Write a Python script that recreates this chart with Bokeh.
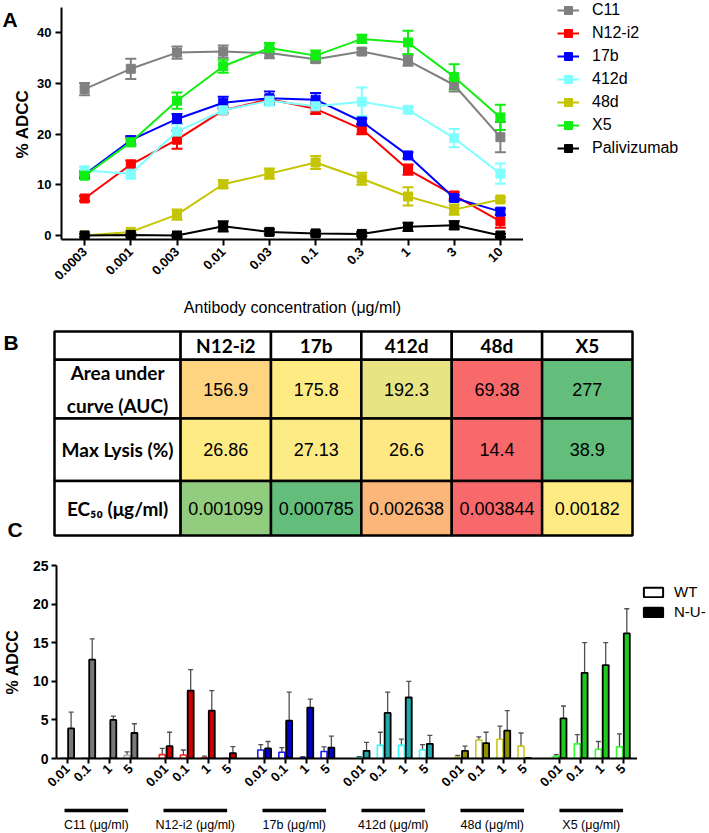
import math
from bokeh.plotting import figure
from bokeh.models import (ColumnDataSource, Range1d, Whisker, TeeHead,
                          Legend, LegendItem, FixedTicker)
from bokeh.layouts import column, row
from bokeh.embed import file_html
from bokeh.resources import INLINE
from bokeh.core.properties import value

ARIAL = "Liberation Sans"
CALIBRI = "Lato"
NAN = float("nan")

# ---------------- Panel A data ----------------
concentrations = ["0.0003", "0.001", "0.003", "0.01", "0.03", "0.1", "0.3", "1", "3", "10"]
series_names = ["C11", "N12-i2", "17b", "412d", "48d", "X5", "Palivizumab"]
c11_mean = [28.9, 32.9, 36.1, 36.3, 36.0, 34.8, 36.3, 34.5, 29.7, 19.4]
c11_err = [1.2, 2.0, 1.2, 1.2, 1.0, 0.7, 0.6, 1.0, 1.3, 3.0]
n12_mean = [7.3, 14.0, 18.9, 24.7, 26.9, 25.0, 21.0, 13.0, 7.9, 2.8]
n12_err = [0.5, 0.8, 1.8, 0.6, 0.6, 1.0, 1.0, 1.0, 0.7, 1.3]
b17_mean = [12.0, 18.8, 23.0, 26.2, 27.1, 26.8, 22.5, 15.8, 7.4, 4.7]
b17_err = [0.6, 0.8, 1.0, 1.2, 1.3, 1.3, 0.6, 0.6, 0.6, 0.6]
d412_mean = [12.8, 12.2, 20.5, 24.7, 26.6, 25.5, 26.4, 24.8, 19.2, 12.2]
d412_err = [0.8, 1.0, 1.5, 0.6, 1.0, 0.7, 2.8, 0.6, 1.8, 2.0]
d48_mean = [0.0, 0.7, 4.1, 10.1, 12.2, 14.4, 11.2, 7.7, 5.1, 7.1]
d48_err = [0.3, 0.3, 1.0, 0.8, 1.0, 1.3, 1.2, 1.8, 1.0, 0.4]
x5_mean = [11.8, 18.4, 26.6, 33.4, 37.0, 35.5, 38.8, 38.1, 31.3, 23.3]
x5_err = [0.6, 0.8, 1.6, 1.3, 1.0, 1.0, 0.8, 2.3, 2.5, 2.5]
pal_mean = [0.0, 0.1, 0.0, 1.8, 0.7, 0.4, 0.3, 1.7, 2.0, 0.0]
pal_err = [0.3, 0.3, 0.3, 1.0, 0.5, 0.4, 0.4, 0.8, 0.8, 0.3]
series_means = [c11_mean, n12_mean, b17_mean, d412_mean, d48_mean, x5_mean, pal_mean]
series_errs = [c11_err, n12_err, b17_err, d412_err, d48_err, x5_err, pal_err]
series_colors = ["#808080", "#ff0000", "#0000ff", "#80ffff", "#c4c400", "#11ee11", "#000000"]
a_yticks = [0, 10, 20, 30, 40]
a_ylabel = "% ADCC"
a_xlabel = "Antibody concentration (\u03bcg/ml)"

# ---------------- Panel B data ----------------
table_antibodies = ["N12-i2", "17b", "412d", "48d", "X5"]
table_row_labels = ["Area under\ncurve (AUC)", "Max Lysis (%)", "EC\u2085\u2080 (\u03bcg/ml)"]
auc_values = [156.9, 175.8, 192.3, 69.38, 277]
max_lysis_values = [26.86, 27.13, 26.6, 14.4, 38.9]
ec50_values = [0.001099, 0.000785, 0.002638, 0.003844, 0.00182]
table_rows = [auc_values, max_lysis_values, ec50_values]
higher_is_better = [True, True, False]

# ---------------- Panel C data ----------------
c_groups = ["C11", "N12-i2", "17b", "412d", "48d", "X5"]
c_concs = ["0.01", "0.1", "1", "5"]
wt_mean = [[0.05, 0.05, 0.05, 0.4], [0.5, 0.45, 0.1, 0.0], [1.1, 0.8, 0.1, 0.9],
           [0.1, 1.7, 1.7, 1.1], [0.15, 2.4, 2.5, 1.6], [0.3, 1.9, 1.2, 1.5]]
wt_err = [[0.0, 0.0, 0.0, 0.45], [0.8, 0.65, 0.2, 0.0], [0.7, 0.6, 0.15, 0.6],
          [0.15, 1.7, 0.8, 0.7], [0.25, 0.4, 1.7, 1.7], [0.2, 1.2, 1.0, 1.7]]
nu_mean = [[3.9, 12.8, 5.0, 3.3], [1.6, 8.8, 6.2, 0.7], [1.3, 4.9, 6.6, 1.4],
           [1.0, 5.9, 7.9, 1.9], [1.0, 2.0, 3.6, 0.05], [5.2, 11.1, 12.1, 16.2]]
nu_err = [[2.1, 2.7, 0.5, 1.2], [1.8, 2.7, 2.6, 0.85], [0.9, 3.7, 1.1, 1.5],
          [1.1, 2.7, 2.1, 1.1], [0.6, 1.4, 2.6, 0.05], [1.6, 3.9, 2.9, 3.2]]
wt_colors = ["#b4b4b4", "#ff2020", "#1a1aff", "#30ffff", "#c8c820", "#30ff30"]
nu_colors = ["#787878", "#cc0000", "#0000c8", "#22a8a8", "#8e8e00", "#20c820"]
c_yticks = [0, 5, 10, 15, 20, 25]
c_keys = ["WT", "N-U-"]


def blank(width, height, x_range, y_range, **kw):
    p = figure(width=width, height=height, x_range=x_range, y_range=y_range,
               output_backend="svg", toolbar_location=None, x_axis_location=None,
               y_axis_location=None, frame_align=False,
               min_border_left=kw.get("left", 0), min_border_right=kw.get("right", 0),
               min_border_top=kw.get("top", 0), min_border_bottom=kw.get("bottom", 0))
    p.xgrid.grid_line_color = None
    p.ygrid.grid_line_color = None
    p.outline_line_color = None
    return p


def style_axes(p, label_size):
    p.xgrid.grid_line_color = None
    p.ygrid.grid_line_color = None
    p.outline_line_color = None
    for ax in p.axis:
        ax.axis_line_width = 2
        ax.axis_line_color = "black"
        ax.major_tick_line_width = 2
        ax.major_tick_line_color = "black"
        ax.major_tick_in = 0
        ax.major_tick_out = 6
        ax.minor_tick_line_color = None
        ax.major_label_text_font = ARIAL
        ax.major_label_text_font_style = "bold"
        ax.major_label_text_font_size = label_size
        ax.major_label_text_color = "black"
        ax.axis_label_text_font = ARIAL
        ax.axis_label_text_color = "black"


def panel_letter(p, x, y, letter):
    p.text(x=[x], y=[y], text=[letter], text_font=value(ARIAL), text_font_style="bold",
           text_font_size="21px", text_baseline="top", text_align="left", text_color="black")


def make_legend(items, location, **kw):
    return Legend(items=items, location=location, orientation="vertical", padding=0, margin=0,
                  label_text_font=ARIAL, label_text_color="black", border_line_color=None,
                  background_fill_alpha=0, **kw)


# ================= Row A =================
HA = 322
SA_W = 34
sA = blank(SA_W, HA, Range1d(0, SA_W), Range1d(0, HA))
panel_letter(sA, 2, HA - 7, "A")
sA.text(x=[21.5], y=[HA - 123.5], text=[a_ylabel], angle=math.pi / 2,
        text_font=value(ARIAL), text_font_style="bold", text_font_size="17px",
        text_align="center", text_baseline="middle", text_color="black")

pA = figure(width=523 - SA_W, height=HA, x_range=concentrations, y_range=Range1d(-0.8, 45.0),
            output_backend="svg", toolbar_location=None, frame_align=False,
            min_border_left=61 - SA_W, min_border_right=0, min_border_top=7, min_border_bottom=83)
style_axes(pA, "13px")
pA.yaxis.ticker = FixedTicker(ticks=a_yticks)
pA.yaxis.major_label_standoff = 4
pA.xaxis.major_label_orientation = math.pi / 4
pA.xaxis.major_label_standoff = 4
pA.xaxis.axis_label = a_xlabel
pA.xaxis.axis_label_text_font_style = "normal"
pA.xaxis.axis_label_text_font_size = "16px"
pA.xaxis.axis_label_standoff = 12

legA = blank(709 - 523, HA, Range1d(0, 1), Range1d(0, 1))
legend_items = []
for name, mean, err, color in zip(series_names, series_means, series_errs, series_colors):
    src = ColumnDataSource(dict(x=concentrations, y=mean,
                                lo=[m - e for m, e in zip(mean, err)],
                                hi=[m + e for m, e in zip(mean, err)]))
    wh = Whisker(base="x", lower="lo", upper="hi", source=src, line_color=color, line_width=2,
                 upper_head=TeeHead(size=11, line_color=color, line_width=2),
                 lower_head=TeeHead(size=11, line_color=color, line_width=2))
    pA.add_layout(wh)
    pA.line("x", "y", source=src, line_color=color, line_width=2)
    pA.scatter("x", "y", source=src, marker="square", size=9, fill_color=color, line_color=color)
    # legend keys (same styling, no visible data) in the legend panel
    kl = legA.line(x=[NAN], y=[NAN], line_color=color, line_width=2)
    ks = legA.scatter(x=[NAN], y=[NAN], marker="square", size=9, fill_color=color, line_color=color)
    legend_items.append(LegendItem(label=name, renderers=[kl, ks]))

legA.add_layout(make_legend(legend_items, (34, HA - 158), spacing=3, glyph_width=22,
                            glyph_height=20, label_height=20, label_standoff=13,
                            label_text_font_size="16px"))

# ================= Row B (table) =================
HB = 226
col_widths = [126] + [90.3] * len(table_antibodies)
row_heights = [28.3, 58.5, 62.5, 54.5]  # header first, top to bottom
total_w = sum(col_widths)
total_h = sum(row_heights)

sB = blank(52, HB, Range1d(0, 52), Range1d(0, HB))
panel_letter(sB, 3, HB - 8, "B")
panel_letter(sB, 7, HB - 195, "C")

pB = blank(657, HB, Range1d(-2, total_w + 2), Range1d(-2, total_h + 2),
           left=0, right=75, top=7, bottom=HB - 7 - int(round(total_h + 4)))

col_edges = [0]
for w_ in col_widths:
    col_edges.append(col_edges[-1] + w_)
row_edges = [total_h]
for h_ in row_heights:
    row_edges.append(row_edges[-1] - h_)

RED = (248, 105, 107)
YEL = (255, 235, 132)
GRN = (99, 190, 123)


def mix(c1, c2, t):
    return "#%02x%02x%02x" % tuple(int(round(a + (b - a) * t)) for a, b in zip(c1, c2))


def scale_color(v, vals, good_high):
    lo, hi = min(vals), max(vals)
    mid = sorted(vals)[len(vals) // 2]
    low_c, high_c = (RED, GRN) if good_high else (GRN, RED)
    if v <= mid:
        t = 0 if mid == lo else (v - lo) / (mid - lo)
        return mix(low_c, YEL, t)
    t = (v - mid) / (hi - mid)
    return mix(YEL, high_c, t)


cells = dict(left=[], right=[], top=[], bottom=[], color=[])
texts = dict(x=[], y=[], text=[])
hdr = dict(x=[], y=[], text=[])
for ci in range(len(col_widths)):
    cells["left"].append(col_edges[ci]); cells["right"].append(col_edges[ci + 1])
    cells["top"].append(row_edges[0]); cells["bottom"].append(row_edges[1])
    cells["color"].append("white")
    if ci > 0:
        hdr["x"].append((col_edges[ci] + col_edges[ci + 1]) / 2)
        hdr["y"].append((row_edges[0] + row_edges[1]) / 2)
        hdr["text"].append(table_antibodies[ci - 1])
for ri, (vals, good) in enumerate(zip(table_rows, higher_is_better)):
    top, bot = row_edges[ri + 1], row_edges[ri + 2]
    cells["left"].append(col_edges[0]); cells["right"].append(col_edges[1])
    cells["top"].append(top); cells["bottom"].append(bot); cells["color"].append("white")
    hdr["x"].append((col_edges[0] + col_edges[1]) / 2)
    hdr["y"].append((top + bot) / 2)
    hdr["text"].append(table_row_labels[ri])
    for ci, v in enumerate(vals):
        cells["left"].append(col_edges[ci + 1]); cells["right"].append(col_edges[ci + 2])
        cells["top"].append(top); cells["bottom"].append(bot)
        cells["color"].append(scale_color(v, vals, good))
        texts["x"].append((col_edges[ci + 1] + col_edges[ci + 2]) / 2)
        texts["y"].append((top + bot) / 2)
        texts["text"].append(f"{v:g}")

pB.quad(left="left", right="right", top="top", bottom="bottom", fill_color="color",
        line_color="black", line_width=2.5, source=ColumnDataSource(cells))
pB.text(x="x", y="y", text="text", source=ColumnDataSource(hdr), text_font=value(CALIBRI),
        text_font_style="bold", text_font_size="19px", text_align="center",
        text_baseline="middle", text_line_height=1.45, text_color="black")
pB.text(x="x", y="y", text="text", source=ColumnDataSource(texts), text_font=value(ARIAL),
        text_font_size="18px", text_align="center", text_baseline="middle",
        text_color="black")

# ================= Row C =================
HC = 252
GROUP_STEP = 14
CONC_STEP = 3
OFFSET = 0.52
BAR_W = 0.85
tick_pos = [g * GROUP_STEP + k * CONC_STEP for g in range(len(c_groups)) for k in range(len(c_concs))]
tick_lab = [c for g in range(len(c_groups)) for c in c_concs]
x_range_c = Range1d(-1.556, 81.04)

pC = figure(width=637, height=HC, x_range=x_range_c, y_range=Range1d(0, 25),
            output_backend="svg", toolbar_location=None, frame_align=False,
            min_border_left=53, min_border_right=0, min_border_top=17, min_border_bottom=42)
style_axes(pC, "14px")
pC.yaxis.ticker = FixedTicker(ticks=c_yticks)
pC.yaxis.major_tick_out = 5
pC.yaxis.major_label_standoff = 3
pC.yaxis.axis_label = a_ylabel
pC.yaxis.axis_label_text_font_style = "bold"
pC.yaxis.axis_label_text_font_size = "16px"
pC.yaxis.axis_label_standoff = 9
pC.xaxis.ticker = FixedTicker(ticks=tick_pos)
pC.xaxis.major_label_overrides = {t: l for t, l in zip(tick_pos, tick_lab)}
pC.xaxis.major_label_orientation = math.pi / 4
pC.xaxis.major_label_text_font_size = "13px"
pC.xaxis.major_tick_out = 5
pC.xaxis.major_label_standoff = 3

wt = dict(x=[], top=[], hi=[], line=[])
nu = dict(x=[], top=[], hi=[], fill=[])
for g in range(len(c_groups)):
    for k in range(len(c_concs)):
        base = g * GROUP_STEP + k * CONC_STEP
        wt["x"].append(base - OFFSET); wt["top"].append(wt_mean[g][k])
        wt["hi"].append(wt_mean[g][k] + wt_err[g][k]); wt["line"].append(wt_colors[g])
        nu["x"].append(base + OFFSET); nu["top"].append(nu_mean[g][k])
        nu["hi"].append(nu_mean[g][k] + nu_err[g][k]); nu["fill"].append(nu_colors[g])
wt_src = ColumnDataSource(wt)
nu_src = ColumnDataSource(nu)
for src in (wt_src, nu_src):
    pC.add_layout(Whisker(base="x", lower="top", upper="hi", source=src, line_color="#505050",
                          line_width=1.3, lower_head=None,
                          upper_head=TeeHead(size=5, line_color="#505050", line_width=1.3)))
pC.vbar(x="x", top="top", bottom=0, width=BAR_W, source=wt_src, fill_color="white",
        line_color="line", line_width=1.6)
pC.vbar(x="x", top="top", bottom=0, width=BAR_W, source=nu_src, fill_color="fill",
        line_color="black", line_width=1.8)

legC = blank(709 - 637, HC, Range1d(0, 1), Range1d(0, 1))
wt_key = legC.vbar(x=[NAN], top=[NAN], width=0.5, fill_color="white", line_color="black", line_width=2)
nu_key = legC.vbar(x=[NAN], top=[NAN], width=0.5, fill_color="black", line_color="black", line_width=2)
legC.add_layout(make_legend([LegendItem(label=c_keys[0], renderers=[wt_key]),
                             LegendItem(label=c_keys[1], renderers=[nu_key])],
                            (4, 180), spacing=3, glyph_width=24, glyph_height=12,
                            label_height=12, label_standoff=9, label_text_font_size="15px"))

# ================= group strip under panel C =================
HD = 33
pD = blank(709, HD, x_range_c, Range1d(0, HD), left=53, right=72)
grp = dict(x0=[g * GROUP_STEP for g in range(len(c_groups))],
           x1=[g * GROUP_STEP + (len(c_concs) - 1) * CONC_STEP for g in range(len(c_groups))],
           xc=[g * GROUP_STEP + (len(c_concs) - 1) * CONC_STEP / 2 for g in range(len(c_groups))],
           label=[f"{name} (\u03bcg/ml)" for name in c_groups])
gsrc = ColumnDataSource(grp)
pD.segment(x0="x0", x1="x1", y0=23, y1=23, source=gsrc, line_color="black", line_width=3.5)
pD.text(x="xc", y=9, text="label", source=gsrc, text_font=value(ARIAL), text_font_size="12.5px",
        text_align="center", text_baseline="middle", text_color="black")

layout = column(row(sA, pA, legA), row(sB, pB), row(pC, legC), pD)
open("out.html", "w").write(file_html(layout, INLINE))
